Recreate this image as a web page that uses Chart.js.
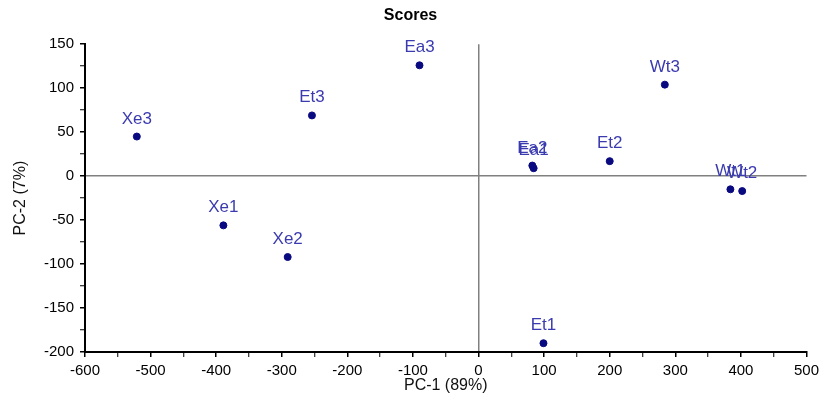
<!DOCTYPE html>
<html>
<head>
<meta charset="utf-8">
<script src="https://cdn.jsdelivr.net/npm/chart.js@4/dist/chart.umd.min.js"></script>
<style>
  body { margin: 0; background: #fff; }
  canvas { display: block; }
</style>
</head>
<body>
<canvas id="scoresChart" width="824" height="398"></canvas>
<script>
// PCA scores
const sampleNames = ['Xe1', 'Xe2', 'Xe3', 'Et1', 'Et2', 'Et3', 'Ea1', 'Ea2', 'Ea3', 'Wt1', 'Wt2', 'Wt3'];
const pc1Scores = [-389, -291, -521, 99, 200, -254, 84, 82, -90, 384, 402, 284];
const pc2Scores = [-56, -92, 45, -190, 17, 69, 9, 12, 126, -15, -17, 104];

const xRange = [-600, 500];
const yRange = [-200, 150];

const FONT = "'Liberation Sans', Arial, sans-serif";

// draw the sample name above each point
const pointLabels = {
    id: 'pointLabels',
    afterDatasetsDraw(chart) {
        const ctx = chart.ctx;
        const meta = chart.getDatasetMeta(0);
        ctx.save();
        ctx.font = '17px ' + FONT;
        ctx.fillStyle = '#3b3bb0';
        ctx.textAlign = 'center';
        ctx.textBaseline = 'alphabetic';
        meta.data.forEach((pt, i) => {
            ctx.fillText(sampleNames[i], pt.x, pt.y - 13);
        });
        ctx.restore();
    }
};

const points = pc1Scores.map((x, i) => ({ x: x, y: pc2Scores[i] }));

const zeroLine = ctx => (ctx.tick && ctx.tick.value === 0) ? '#808080' : 'rgba(0,0,0,0)';

new Chart(document.getElementById('scoresChart').getContext('2d'), {
    type: 'scatter',
    data: {
        datasets: [{
            data: points,
            backgroundColor: '#0a0a80',
            borderColor: '#0a0a80',
            pointRadius: 3.5,
            pointHoverRadius: 3.5
        }]
    },
    options: {
        responsive: false,
        animation: false,
        layout: { padding: { left: 13, right: 16, top: 0, bottom: 3 } },
        plugins: {
            legend: { display: false },
            tooltip: { enabled: false },
            title: {
                display: true,
                text: 'Scores',
                color: '#000',
                font: { family: FONT, size: 16, weight: 'bold' },
                padding: { top: 6, bottom: 19 }
            }
        },
        scales: {
            x: {
                type: 'linear',
                min: xRange[0],
                max: xRange[1],
                afterFit: s => { s.height = 43; },
                border: { display: true, color: '#000', width: 2 },
                grid: {
                    color: zeroLine,
                    lineWidth: 1.5,
                    tickColor: '#000',
                    tickLength: 5,
                    tickWidth: c => (c.tick && c.tick.value % 100 === 0) ? 1.5 : 1
                },
                ticks: {
                    stepSize: 50,
                    autoSkip: false,
                    maxRotation: 0,
                    padding: 5,
                    color: '#000',
                    font: { family: FONT, size: 15 },
                    callback: v => (v % 100 === 0 ? String(v) : '')
                },
                title: {
                    display: true,
                    text: 'PC-1 (89%)',
                    color: '#111',
                    font: { family: FONT, size: 16, lineHeight: 1 },
                    padding: { top: 0, bottom: 1 }
                }
            },
            y: {
                type: 'linear',
                min: yRange[0],
                max: yRange[1],
                afterFit: s => { s.width = 72; },
                border: { display: true, color: '#000', width: 2 },
                grid: {
                    color: zeroLine,
                    lineWidth: 1.5,
                    tickColor: '#000',
                    tickLength: 5,
                    tickWidth: c => (c.tick && c.tick.value % 50 === 0) ? 1.5 : 1
                },
                ticks: {
                    stepSize: 25,
                    autoSkip: false,
                    padding: 6,
                    color: '#000',
                    font: { family: FONT, size: 15 },
                    callback: v => (v % 50 === 0 ? String(v) : '')
                },
                title: {
                    display: true,
                    text: 'PC-2 (7%)',
                    color: '#111',
                    font: { family: FONT, size: 16, lineHeight: 1 },
                    padding: { top: 0, bottom: 0 }
                }
            }
        }
    },
    plugins: [pointLabels]
});
</script>
</body>
</html>
